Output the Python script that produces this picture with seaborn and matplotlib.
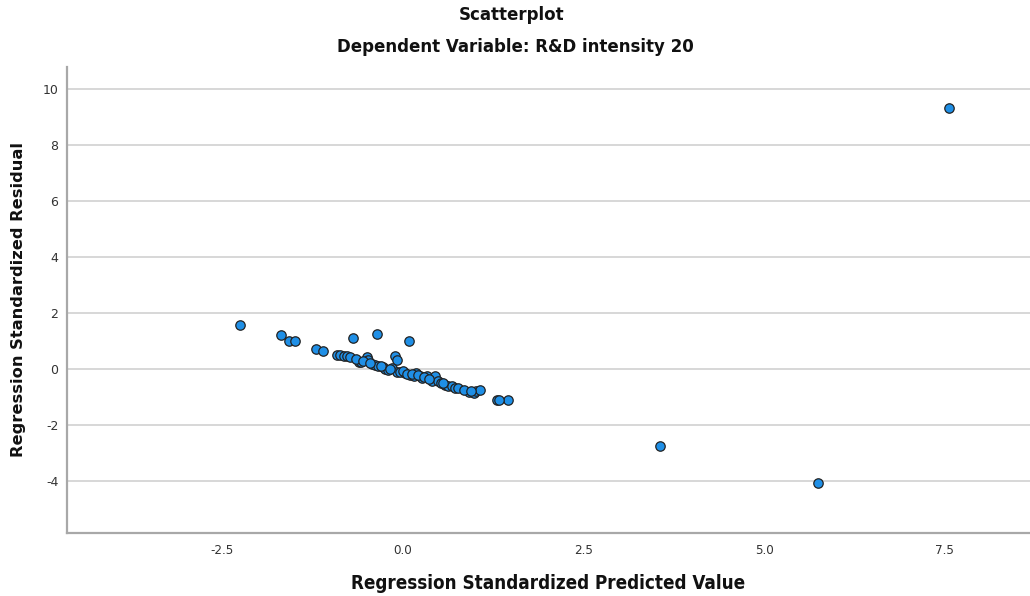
import matplotlib
matplotlib.use("Agg")
import matplotlib.pyplot as plt
import seaborn as sns
import pandas as pd
from matplotlib import font_manager as fm

# Regression standardized predicted values (x) and residuals (y)
pred = [-2.25, -1.69, -1.57, -1.49, -1.20, -1.10, -0.69, -0.36, 0.08,
        -0.91, -0.87, -0.82, -0.77, -0.73, -0.61, -0.58, -0.50, -0.48,
        -0.43, -0.38, -0.34, -0.27, -0.24, -0.20, -0.15, -0.11, -0.08,
        -0.08, -0.04, 0.03, 0.10, 0.15, 0.19, 0.24, 0.26, 0.33, 0.40,
        0.45, 0.49, 0.59, 0.63, 0.68, 0.72, 0.77, 0.91, 0.98, 1.02,
        1.07, 1.30, 1.46,
        -0.65, -0.55, -0.45, -0.30, -0.18, 0.00, 0.06, 0.13, 0.21, 0.30,
        0.36, 0.53, 0.56, 0.85, 0.95, 1.33,
        3.56, 5.74, 7.56]
resid = [1.58, 1.23, 1.02, 1.02, 0.73, 0.65, 1.11, 1.27, 1.01,
         0.51, 0.49, 0.48, 0.45, 0.43, 0.27, 0.24, 0.43, 0.33,
         0.19, 0.15, 0.12, 0.07, 0.00, -0.05, 0.04, 0.45, 0.33,
         -0.09, -0.12, -0.14, -0.20, -0.26, -0.14, -0.24, -0.32, -0.26, -0.41,
         -0.26, -0.44, -0.56, -0.60, -0.62, -0.68, -0.68, -0.82, -0.86, -0.80,
         -0.76, -1.10, -1.10,
         0.36, 0.30, 0.22, 0.10, 0.02, -0.08, -0.16, -0.18, -0.22, -0.30,
         -0.36, -0.48, -0.50, -0.74, -0.80, -1.12,
         -2.76, -4.07, 9.32]

x_ticks = [-2.5, 0.0, 2.5, 5.0, 7.5]
y_ticks = [-4, -2, 0, 2, 4, 6, 8, 10]

df = pd.DataFrame({"pred": pred, "resid": resid})

sns.set_style("white")
plt.rcParams["font.family"] = ["DejaVu Sans"]

# condensed face for the x axis texts, if present
cond_bold = fm.FontProperties(family="DejaVu Sans", stretch="condensed",
                              weight="bold", size=13.5)
cond_reg = fm.FontProperties(family="DejaVu Sans", stretch="condensed",
                             weight="normal", size=9.5)

fig = plt.figure(figsize=(10.30, 5.96), dpi=100)
ax = fig.add_axes([0.0648, 0.106, 0.9352, 0.782])

sns.scatterplot(data=df, x="pred", y="resid", ax=ax, s=46,
                color="#1f8fe6", edgecolor="#222222", linewidth=0.9, zorder=3)

ax.set_xlim(-4.65, 8.68)
ax.set_ylim(-5.85, 10.8)
ax.set_xticks(x_ticks)
ax.set_xticklabels([f"{t:.1f}" for t in x_ticks], fontproperties=cond_reg,
                   color="#333333")
ax.set_yticks(y_ticks)
ax.set_yticklabels([str(t) for t in y_ticks], fontsize=9, color="#333333")
ax.tick_params(axis="both", length=0)
ax.tick_params(axis="x", pad=8)
ax.tick_params(axis="y", pad=6)

ax.yaxis.grid(True, color="#d4d4d4", linewidth=1.3)
ax.xaxis.grid(False)
ax.set_axisbelow(True)

for side in ["top", "right"]:
    ax.spines[side].set_visible(False)
for side in ["left", "bottom"]:
    ax.spines[side].set_color("#a8a8a8")
    ax.spines[side].set_linewidth(1.6)

ax.set_xlabel("Regression Standardized Predicted Value", fontproperties=cond_bold,
              labelpad=12, color="#111111")
ax.set_ylabel("Regression Standardized Residual", fontsize=11.7,
              fontweight="bold", labelpad=12, color="#111111")

fig.text(0.497, 0.975, "Scatterplot", ha="center", va="center",
         fontsize=12, fontweight="bold", color="#111111")
fig.text(0.5, 0.921, "Dependent Variable: R&D intensity 20", ha="center",
         va="center", fontsize=12, fontweight="bold", color="#111111")

fig.savefig("out.png", dpi=100)
